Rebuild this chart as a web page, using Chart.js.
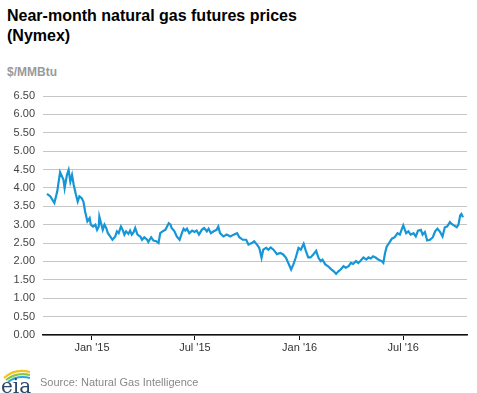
<!DOCTYPE html>
<html>
<head>
<meta charset="utf-8">
<script src="https://cdn.jsdelivr.net/npm/chart.js@4/dist/chart.umd.min.js"></script>
<style>
  html, body { margin: 0; padding: 0; background: #fff; }
  body { width: 477px; height: 393px; position: relative; overflow: hidden; font-family: "Liberation Sans", Arial, sans-serif; }
  #chart { position: absolute; left: 0; top: 0; }
  .title { position: absolute; left: 7px; top: 6px; font-size: 16px; font-weight: bold; line-height: 20px; color: #000; }
  .unit { position: absolute; left: 7px; top: 65px; font-size: 12px; font-weight: bold; color: #999; }
  .source { position: absolute; left: 40px; top: 376px; font-size: 11px; color: #888; }
  .logo { position: absolute; left: 0px; top: 366px; }
</style>
</head>
<body>
<div class="title">Near-month natural gas futures prices<br>(Nymex)</div>
<div class="unit">$/MMBtu</div>
<canvas id="chart" width="477" height="393"></canvas>
<svg class="logo" width="36" height="27" viewBox="0 0 36 27">
  <path d="M4 12 Q15 2 30 6" stroke="#f2c318" stroke-width="2.2" fill="none"/>
  <path d="M6 14 Q16 6 30 9" stroke="#8cc63f" stroke-width="2.2" fill="none"/>
  <path d="M8 16 Q17 9 30 12" stroke="#29a8e0" stroke-width="2" fill="none"/>
  <text x="1" y="27" font-family="DejaVu Serif, serif" font-size="20" fill="#2c4767">eia</text>
</svg>
<div class="source">Source: Natural Gas Intelligence</div>

<script>
// Near-month prices ($/MMBtu)
const dates = [
  '2014-10-14','2014-10-20','2014-10-27','2014-11-01','2014-11-06','2014-11-12','2014-11-14','2014-11-18',
  '2014-11-21','2014-11-24','2014-11-27','2014-11-30','2014-12-04','2014-12-07','2014-12-10','2014-12-14',
  '2014-12-17','2014-12-20','2014-12-24','2014-12-28','2014-12-30','2015-01-03','2015-01-07','2015-01-10',
  '2015-01-13','2015-01-14','2015-01-17','2015-01-20','2015-01-23','2015-01-26','2015-01-29','2015-02-02',
  '2015-02-06','2015-02-11','2015-02-14','2015-02-17','2015-02-21','2015-02-24','2015-02-27','2015-03-02',
  '2015-03-06','2015-03-09','2015-03-12','2015-03-15','2015-03-18','2015-03-22','2015-03-27','2015-03-30',
  '2015-04-03','2015-04-08','2015-04-10','2015-04-15','2015-04-19','2015-04-24','2015-04-28','2015-05-01',
  '2015-05-05','2015-05-10','2015-05-13','2015-05-16','2015-05-19','2015-05-21','2015-05-26','2015-05-30',
  '2015-06-04','2015-06-08','2015-06-11','2015-06-14','2015-06-17','2015-06-21','2015-06-26','2015-06-30',
  '2015-07-04','2015-07-08','2015-07-13','2015-07-17','2015-07-22','2015-07-25','2015-07-29','2015-08-03',
  '2015-08-08','2015-08-11','2015-08-14','2015-08-20','2015-08-26','2015-09-01','2015-09-07','2015-09-13',
  '2015-09-17','2015-09-23','2015-09-29','2015-10-03','2015-10-09','2015-10-13','2015-10-18','2015-10-22',
  '2015-10-26','2015-10-29','2015-11-03','2015-11-07','2015-11-11','2015-11-16','2015-11-19','2015-11-22',
  '2015-11-28','2015-12-03','2015-12-08','2015-12-12','2015-12-17','2015-12-21','2015-12-25','2015-12-30',
  '2016-01-03','2016-01-08','2016-01-12','2016-01-16','2016-01-20','2016-01-25','2016-01-30','2016-02-03',
  '2016-02-07','2016-02-10','2016-02-15','2016-02-20','2016-02-26','2016-03-01','2016-03-05','2016-03-09',
  '2016-03-13','2016-03-18','2016-03-22','2016-03-27','2016-03-31','2016-04-04','2016-04-09','2016-04-13',
  '2016-04-17','2016-04-22','2016-04-27','2016-05-01','2016-05-05','2016-05-09','2016-05-14','2016-05-18',
  '2016-05-24','2016-05-27','2016-05-30','2016-06-02','2016-06-06','2016-06-11','2016-06-16','2016-06-21',
  '2016-06-25','2016-06-28','2016-07-01','2016-07-06','2016-07-10','2016-07-14','2016-07-19','2016-07-23',
  '2016-07-27','2016-08-01','2016-08-04','2016-08-08','2016-08-12','2016-08-17','2016-08-22','2016-08-26',
  '2016-08-30','2016-09-03','2016-09-08','2016-09-12','2016-09-16','2016-09-21','2016-09-24','2016-09-28',
  '2016-10-03','2016-10-06','2016-10-09','2016-10-11','2016-10-14'
];
const prices = [
  3.84, 3.77, 3.59, 3.90, 4.43, 4.22, 3.99, 4.35,
  4.49, 4.17, 4.35, 4.08, 3.81, 3.63, 3.77, 3.72,
  3.63, 3.36, 3.09, 3.18, 3.00, 2.95, 3.00, 2.86,
  2.95, 3.22, 3.04, 2.86, 3.00, 2.91, 2.77, 2.68,
  2.59, 2.68, 2.82, 2.77, 2.95, 2.86, 2.73, 2.82,
  2.75, 2.84, 2.73, 2.79, 2.91, 2.73, 2.68, 2.59,
  2.66, 2.59, 2.53, 2.66, 2.57, 2.55, 2.50, 2.77,
  2.82, 2.86, 2.95, 3.04, 3.00, 2.91, 2.82, 2.68,
  2.59, 2.77, 2.89, 2.84, 2.89, 2.77, 2.84, 2.80,
  2.84, 2.73, 2.86, 2.91, 2.82, 2.89, 2.77, 2.82,
  2.86, 2.95, 2.77, 2.68, 2.73, 2.68, 2.73, 2.77,
  2.66, 2.59, 2.59, 2.46, 2.50, 2.55, 2.46, 2.37,
  2.10, 2.32, 2.37, 2.32, 2.38, 2.32, 2.26, 2.20,
  2.23, 2.19, 2.10, 1.96, 1.78, 1.92, 2.10, 2.37,
  2.32, 2.48, 2.28, 2.11, 2.11, 2.19, 2.29, 2.10,
  2.01, 2.05, 1.92, 1.87, 1.78, 1.73, 1.66, 1.73,
  1.78, 1.87, 1.83, 1.87, 1.96, 1.93, 2.01, 1.96,
  2.02, 2.11, 2.05, 2.11, 2.08, 2.14, 2.10, 2.05,
  2.01, 1.96, 2.23, 2.41, 2.50, 2.62, 2.66, 2.77,
  2.73, 2.86, 2.98, 2.77, 2.82, 2.73, 2.77, 2.68,
  2.84, 2.86, 2.73, 2.80, 2.57, 2.59, 2.66, 2.82,
  2.89, 2.82, 2.68, 2.93, 2.95, 3.07, 3.02, 2.98,
  2.93, 3.00, 3.25, 3.29, 3.20
];

// x axis tick positions and their labels
const tickDates = ['2015-01-01', '2015-07-01', '2016-01-01', '2016-07-01'];
const tickLabels = ["Jan '15", "Jul '15", "Jan '16", "Jul '16"];
const xStart = '2014-10-07';
const xEnd = '2016-10-21';

const points = dates.map((d, i) => ({ x: Date.parse(d), y: prices[i] }));
const tickValues = tickDates.map(d => Date.parse(d));

const chart = new Chart(document.getElementById('chart'), {
  type: 'line',
  data: {
    datasets: [{
      data: points,
      borderColor: '#1696d6',
      borderWidth: 2.2,
      pointRadius: 0,
      tension: 0,
      fill: false
    }]
  },
  options: {
    responsive: false,
    animation: false,
    layout: { padding: { left: 0, top: 96, right: 10, bottom: 33 } },
    plugins: { legend: { display: false }, tooltip: { enabled: false } },
    scales: {
      x: {
        type: 'linear',
        min: Date.parse(xStart),
        max: Date.parse(xEnd),
        afterBuildTicks: scale => { scale.ticks = tickValues.map(v => ({ value: v })); },
        afterFit: scale => { scale.height = 25; },
        grid: { drawOnChartArea: false, drawTicks: true, tickLength: 5, tickColor: '#111', tickWidth: 1 },
        border: { display: true, color: '#111', width: 1.5 },
        ticks: {
          padding: 1,
          maxRotation: 0,
          autoSkip: false,
          color: '#333',
          font: { family: 'Liberation Sans', size: 11 },
          callback: v => tickLabels[tickValues.indexOf(v)]
        }
      },
      y: {
        min: 0,
        max: 6.5,
        afterFit: scale => { scale.width = 43; },
        grid: { color: '#c6c6c6', lineWidth: 1, drawTicks: false },
        border: { display: false },
        ticks: {
          stepSize: 0.5,
          padding: 8,
          color: '#444',
          font: { family: 'Liberation Sans', size: 11 },
          callback: v => v.toFixed(2)
        }
      }
    }
  }
});
</script>
</body>
</html>
